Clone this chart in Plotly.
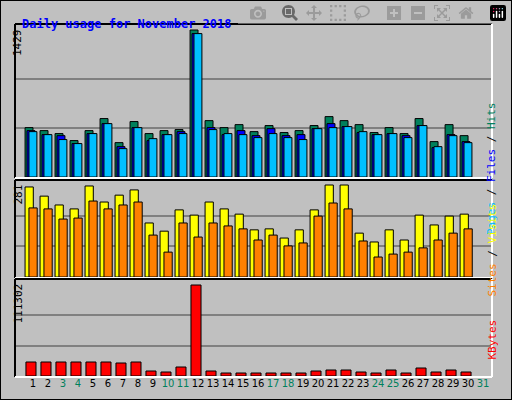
"""Webalizer style daily usage chart"""

import plotly.graph_objects as go

days = list(range(1, 32))
weekend = [3, 4, 10, 11, 17, 18, 24, 25, 31]

hits = [480, 451, 422, 354, 451, 568, 334, 539, 422, 451, 461, 1429, 548, 480, 509,
        441, 500, 432, 451, 500, 587, 548, 509, 432, 480, 422, 568, 344, 509, 402]
files = [451, 412, 402, 325, 422, 519, 295, 480, 354, 412, 441, 1394, 480, 412, 451,
         402, 470, 402, 412, 470, 519, 490, 432, 412, 422, 402, 500, 286, 412, 344]
pages = [441, 412, 364, 325, 422, 519, 276, 480, 373, 412, 422, 1394, 461, 422, 412,
         383, 422, 383, 364, 470, 480, 490, 441, 412, 422, 383, 500, 295, 402, 334]
sites = [275, 247, 220, 208, 278, 229, 250, 266, 165, 140, 205, 189, 229, 208, 192,
         144, 147, 119, 144, 205, 281, 281, 134, 107, 144, 113, 189, 159, 186, 192]
visits = [211, 208, 177, 180, 232, 208, 220, 229, 128, 76, 165, 122, 165, 156, 147,
          113, 128, 95, 104, 186, 226, 208, 110, 61, 70, 76, 89, 113, 134, 147]
kbytes = [17123, 17123, 17123, 17123, 17123, 17123, 15900, 17123, 6115, 4892, 11008,
          111302, 6115, 3669, 3669, 3669, 3669, 3669, 3669, 6115, 7338, 7338, 4892,
          3669, 7338, 3669, 9785, 4892, 7338, 4892]

C_HITS, C_FILES, C_PAGES = "#00805c", "#0000ff", "#00c0ff"
C_SITES, C_VISITS, C_KB = "#ff8000", "#ffff00", "#ff0000"
GRAY = "#c0c0c0"
W, H = 512, 400


def py(p):
    return 1 - p / H


def bar(y, color, offset, width, axis):
    return go.Bar(x=days[:len(y)], y=y, marker=dict(color=color, line=dict(color="black", width=1)),
                  offset=offset, width=width, xaxis="x", yaxis=axis, showlegend=False, hoverinfo="skip")


fig = go.Figure()
fig.add_trace(bar(hits, C_HITS, -0.53, 0.53, "y"))
fig.add_trace(bar(files, C_FILES, -0.4, 0.53, "y"))
fig.add_trace(bar(pages, C_PAGES, -0.27, 0.53, "y"))
fig.add_trace(bar(sites, C_VISITS, -0.53, 0.55, "y2"))
fig.add_trace(bar(visits, C_SITES, -0.27, 0.55, "y2"))
fig.add_trace(bar(kbytes, C_KB, -0.47, 0.67, "y3"))

max1, max2, max3 = max(hits), max(sites), max(kbytes)
grid = dict(showgrid=True, gridcolor="#808080", gridwidth=1.5, showticklabels=False,
            zeroline=False, ticks="", fixedrange=True)

ticktext = ["<span style='color:%s'>%d</span>" % ("#00805c" if d in weekend else "black", d)
            for d in days]

fig.update_layout(
    width=W, height=H, margin=dict(l=0, r=0, t=0, b=0),
    paper_bgcolor=GRAY, plot_bgcolor=GRAY, barmode="overlay",
    font=dict(family="DejaVu Sans", size=11, color="black"),
    xaxis=dict(domain=[16 / W, 491 / W], range=[-0.133, 31.53], tickvals=days, ticktext=ticktext,
               showgrid=False, ticks="", anchor="y3", tickangle=0, automargin=False,
               tickfont=dict(family="DejaVu Sans", size=10)),
    yaxis=dict(domain=[py(177), py(25)], range=[0, max1 * 152 / 147],
               tickvals=[max1 / 3, max1 * 2 / 3], **grid),
    yaxis2=dict(domain=[py(277), py(181)], range=[0, max2 * 96 / 92],
                tickvals=[max2 / 3, max2 * 2 / 3], **grid),
    yaxis3=dict(domain=[py(376), py(280)], range=[0, max3 * 96 / 91],
                tickvals=[max3 / 3, max3 * 2 / 3], **grid),
)

# 3D style frames around each panel
shapes = [dict(type="rect", xref="paper", yref="paper", x0=0, x1=1, y0=0, y1=1,
               line=dict(color="black", width=2))]
for top, bot in [(24, 178), (180, 278), (279, 377)]:
    x0, x1 = 15 / W, 492 / W
    shapes.append(dict(type="line", xref="paper", yref="paper", x0=x0, x1=x1, y0=py(top), y1=py(top),
                       line=dict(color="black", width=2)))
    shapes.append(dict(type="line", xref="paper", yref="paper", x0=x0, x1=x0, y0=py(top), y1=py(bot),
                       line=dict(color="black", width=2)))
    shapes.append(dict(type="line", xref="paper", yref="paper", x0=x0, x1=x1, y0=py(bot), y1=py(bot),
                       line=dict(color="white", width=2)))
    shapes.append(dict(type="line", xref="paper", yref="paper", x0=x1, x1=x1, y0=py(top), y1=py(bot),
                       line=dict(color="white", width=2)))
fig.update_layout(shapes=shapes)

mono = dict(family="DejaVu Sans Mono", size=11)
sl = "<span style='color:black'> / </span>"
annotations = [
    dict(x=20 / W, y=py(15), text="<b>Daily usage for November 2018</b>", xanchor="left",
         font=dict(family="DejaVu Sans Mono", size=12, color="#0000ff")),
    dict(x=9 / W, y=py(27), text=str(max1), textangle=-90, yanchor="top", font=mono),
    dict(x=9 / W, y=py(183), text=str(max2), textangle=-90, yanchor="top", font=mono),
    dict(x=9 / W, y=py(282), text=str(max3), textangle=-90, yanchor="top", font=mono),
    dict(x=500 / W, y=py(100), textangle=-90, font=mono,
         text="<span style='color:%s'>Pages</span>%s<span style='color:%s'>Files</span>%s"
              "<span style='color:%s'>Hits</span>" % (C_PAGES, sl, C_FILES, sl, C_HITS)),
    dict(x=500 / W, y=py(250), textangle=-90, font=mono,
         text="<span style='color:%s'>Sites</span>%s<span style='color:%s'>Visits</span>"
              % (C_SITES, sl, C_VISITS)),
    dict(x=500 / W, y=py(362), textangle=-90, font=mono,
         text="<span style='color:%s'>KBytes</span>" % C_KB),
]
for a in annotations:
    a.update(xref="paper", yref="paper", showarrow=False)
fig.update_layout(annotations=annotations)

fig.write_html("out.html", post_script="document.body.style.margin='0';")
